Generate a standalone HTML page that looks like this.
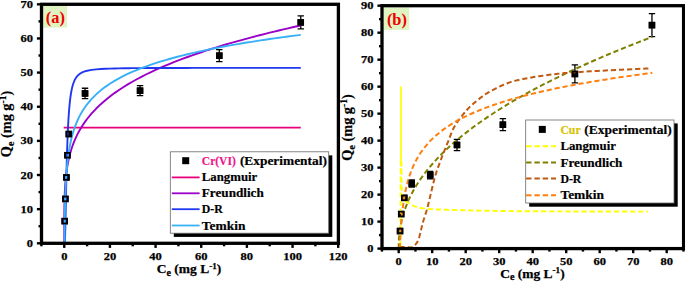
<!DOCTYPE html>
<html><head><meta charset="utf-8"><title>Isotherm plots</title>
<style>html,body{margin:0;padding:0;background:#fff}body{width:685px;height:282px;overflow:hidden}</style></head>
<body>
<svg width="685" height="282" viewBox="0 0 685 282" style="display:block;font-family:'Liberation Serif','DejaVu Serif',serif">
<rect width="685" height="282" fill="#fff"/>
<rect x="43" y="5.9" width="24.1" height="21.7" fill="#dff3c3"/>
<text x="55.3" y="23" text-anchor="middle" font-size="16.4" font-weight="bold" fill="#f00000">(a)</text>
<rect x="61.46" y="217.86" width="6.50" height="6.50" fill="#000"/>
<rect x="62.14" y="195.67" width="6.50" height="6.50" fill="#000"/>
<rect x="63.17" y="174.16" width="6.50" height="6.50" fill="#000"/>
<rect x="64.20" y="151.97" width="6.50" height="6.50" fill="#000"/>
<rect x="65.57" y="130.80" width="6.50" height="6.50" fill="#000"/>
<path d="M85.03 88.23 V98.63 M81.83 88.23 H88.23 M81.83 98.63 H88.23" stroke="#000" stroke-width="1.3" fill="none"/>
<rect x="81.78" y="90.18" width="6.50" height="6.50" fill="#000"/>
<path d="M140.05 85.69 V95.69 M136.85 85.69 H143.25 M136.85 95.69 H143.25" stroke="#000" stroke-width="1.3" fill="none"/>
<rect x="136.80" y="87.44" width="6.50" height="6.50" fill="#000"/>
<path d="M219.27 49.70 V61.70 M216.07 49.70 H222.47 M216.07 61.70 H222.47" stroke="#000" stroke-width="1.3" fill="none"/>
<rect x="216.02" y="52.45" width="6.50" height="6.50" fill="#000"/>
<path d="M300.77 15.91 V28.91 M297.57 15.91 H303.97 M297.57 28.91 H303.97" stroke="#000" stroke-width="1.3" fill="none"/>
<rect x="297.52" y="19.16" width="6.50" height="6.50" fill="#000"/>
<path d="M63.66 127.57 L300.77 127.57" fill="none" stroke="#e8007c" stroke-width="1.85" stroke-linejoin="round"/>
<path d="M64.25 243.30 L64.25 227.20 L64.26 224.29 L64.26 222.35 L64.27 220.85 L64.27 219.62 L64.28 218.56 L64.28 217.62 L64.29 216.79 L64.29 216.03 L64.30 215.33 L64.30 214.68 L64.30 214.08 L64.31 213.51 L64.31 212.98 L64.32 212.47 L64.32 211.99 L64.33 211.53 L64.33 211.09 L64.34 210.67 L64.34 210.27 L64.35 209.88 L64.35 209.50 L64.36 209.14 L64.36 208.79 L64.36 208.45 L64.37 208.12 L64.37 207.80 L64.38 207.49 L64.38 207.19 L64.39 206.89 L64.39 206.60 L64.40 206.32 L64.40 206.05 L64.41 205.78 L64.41 205.52 L64.41 205.26 L64.42 205.01 L64.42 204.77 L64.43 204.53 L64.43 204.29 L64.44 204.06 L64.44 203.83 L64.45 203.61 L64.45 203.39 L64.46 203.17 L64.46 202.96 L64.46 202.75 L64.47 202.54 L64.47 202.34 L64.48 202.14 L64.59 197.94 L64.71 194.69 L64.82 192.02 L64.93 189.73 L65.05 187.71 L65.16 185.90 L65.28 184.25 L65.39 182.74 L65.51 181.34 L65.62 180.03 L65.73 178.80 L65.85 177.64 L65.96 176.55 L66.08 175.51 L66.19 174.51 L66.30 173.56 L66.42 172.65 L66.53 171.78 L66.65 170.93 L66.76 170.12 L66.88 169.34 L66.99 168.58 L67.10 167.84 L67.22 167.13 L67.33 166.44 L67.45 165.76 L67.56 165.11 L67.67 164.47 L67.79 163.84 L67.90 163.24 L68.02 162.64 L68.13 162.06 L68.25 161.50 L68.36 160.94 L68.47 160.40 L68.59 159.86 L68.70 159.34 L68.82 158.83 L68.93 158.33 L69.04 157.84 L69.73 155.05 L70.41 152.52 L71.10 150.20 L71.78 148.04 L72.47 146.03 L73.15 144.15 L73.84 142.37 L74.52 140.68 L75.21 139.08 L75.89 137.55 L76.58 136.09 L77.26 134.69 L77.95 133.35 L78.63 132.05 L79.32 130.80 L80.00 129.60 L80.69 128.43 L81.37 127.30 L82.06 126.20 L82.74 125.14 L83.43 124.10 L84.11 123.09 L84.80 122.11 L85.48 121.15 L86.17 120.22 L86.85 119.31 L87.08 119.01 L91.65 113.45 L96.21 108.55 L100.78 104.17 L105.34 100.18 L109.91 96.51 L114.48 93.11 L119.04 89.94 L123.61 86.97 L128.17 84.17 L132.74 81.51 L137.31 78.98 L141.87 76.57 L146.44 74.27 L151.00 72.06 L155.57 69.94 L160.14 67.90 L164.70 65.93 L169.27 64.03 L173.83 62.19 L178.40 60.41 L182.97 58.68 L187.53 57.00 L192.10 55.36 L196.66 53.77 L201.23 52.23 L205.80 50.72 L210.36 49.24 L214.93 47.80 L219.49 46.40 L224.06 45.02 L228.63 43.68 L233.19 42.36 L237.76 41.07 L242.32 39.81 L246.89 38.57 L251.46 37.35 L256.02 36.15 L260.59 34.98 L265.15 33.83 L269.72 32.70 L274.29 31.58 L278.85 30.49 L283.42 29.41 L287.98 28.35 L292.55 27.30 L297.12 26.27 L300.77 25.46" fill="none" stroke="#9a00c8" stroke-width="1.9" stroke-linejoin="round"/>
<path d="M64.25 243.30 L64.25 243.30 L64.26 243.30 L64.26 243.30 L64.27 243.30 L64.27 243.30 L64.28 243.30 L64.28 243.30 L64.29 243.30 L64.29 243.30 L64.30 243.30 L64.30 243.30 L64.30 243.30 L64.31 243.30 L64.31 243.30 L64.32 243.30 L64.32 243.30 L64.33 243.30 L64.33 243.30 L64.34 243.30 L64.34 243.30 L64.35 243.30 L64.35 243.30 L64.36 243.30 L64.36 243.30 L64.36 243.30 L64.37 243.30 L64.37 243.30 L64.38 243.30 L64.38 243.30 L64.39 243.30 L64.39 243.30 L64.40 243.30 L64.40 243.30 L64.41 243.30 L64.41 243.30 L64.41 243.30 L64.42 243.30 L64.42 243.30 L64.43 243.30 L64.43 243.30 L64.44 243.30 L64.44 243.30 L64.45 243.30 L64.45 243.30 L64.46 243.30 L64.46 243.30 L64.46 243.30 L64.47 243.30 L64.47 243.30 L64.48 243.30 L64.59 243.22 L64.71 242.84 L64.82 241.84 L64.93 240.01 L65.05 237.27 L65.16 233.68 L65.28 229.36 L65.39 224.48 L65.51 219.22 L65.62 213.70 L65.73 208.06 L65.85 202.41 L65.96 196.80 L66.08 191.32 L66.19 185.98 L66.30 180.83 L66.42 175.89 L66.53 171.15 L66.65 166.64 L66.76 162.34 L66.88 158.25 L66.99 154.37 L67.10 150.69 L67.22 147.21 L67.33 143.91 L67.45 140.78 L67.56 137.82 L67.67 135.01 L67.79 132.36 L67.90 129.84 L68.02 127.46 L68.13 125.19 L68.25 123.05 L68.36 121.01 L68.47 119.08 L68.59 117.24 L68.70 115.50 L68.82 113.84 L68.93 112.26 L69.04 110.76 L69.73 103.10 L70.41 97.26 L71.10 92.73 L71.78 89.15 L72.47 86.28 L73.15 83.95 L73.84 82.02 L74.52 80.42 L75.21 79.07 L75.89 77.93 L76.58 76.95 L77.26 76.10 L77.95 75.37 L78.63 74.73 L79.32 74.16 L80.00 73.67 L80.69 73.23 L81.37 72.83 L82.06 72.48 L82.74 72.16 L83.43 71.88 L84.11 71.62 L84.80 71.39 L85.48 71.17 L86.17 70.98 L86.85 70.80 L87.08 70.74 L91.65 69.89 L96.21 69.36 L100.78 69.01 L105.34 68.77 L109.91 68.59 L114.48 68.46 L119.04 68.36 L123.61 68.28 L128.17 68.22 L132.74 68.17 L137.31 68.13 L141.87 68.09 L146.44 68.06 L151.00 68.04 L155.57 68.02 L160.14 68.00 L164.70 67.98 L169.27 67.97 L173.83 67.96 L178.40 67.95 L182.97 67.94 L187.53 67.93 L192.10 67.92 L196.66 67.92 L201.23 67.91 L205.80 67.90 L210.36 67.90 L214.93 67.89 L219.49 67.89 L224.06 67.89 L228.63 67.88 L233.19 67.88 L237.76 67.88 L242.32 67.87 L246.89 67.87 L251.46 67.87 L256.02 67.87 L260.59 67.86 L265.15 67.86 L269.72 67.86 L274.29 67.86 L278.85 67.86 L283.42 67.86 L287.98 67.85 L292.55 67.85 L297.12 67.85 L300.77 67.85" fill="none" stroke="#2038f0" stroke-width="1.9" stroke-linejoin="round"/>
<path d="M64.46 242.93 L64.47 242.31 L64.47 241.70 L64.48 241.10 L64.59 229.05 L64.71 220.51 L64.82 213.88 L64.93 208.47 L65.05 203.89 L65.16 199.92 L65.28 196.42 L65.39 193.29 L65.51 190.46 L65.62 187.88 L65.73 185.50 L65.85 183.30 L65.96 181.25 L66.08 179.33 L66.19 177.53 L66.30 175.84 L66.42 174.23 L66.53 172.71 L66.65 171.26 L66.76 169.87 L66.88 168.55 L66.99 167.29 L67.10 166.08 L67.22 164.91 L67.33 163.79 L67.45 162.71 L67.56 161.67 L67.67 160.66 L67.79 159.69 L67.90 158.75 L68.02 157.83 L68.13 156.95 L68.25 156.08 L68.36 155.25 L68.47 154.43 L68.59 153.64 L68.70 152.87 L68.82 152.12 L68.93 151.38 L69.04 150.67 L69.73 146.70 L70.41 143.20 L71.10 140.08 L71.78 137.24 L72.47 134.66 L73.15 132.28 L73.84 130.08 L74.52 128.03 L75.21 126.12 L75.89 124.31 L76.58 122.62 L77.26 121.01 L77.95 119.49 L78.63 118.04 L79.32 116.66 L80.00 115.34 L80.69 114.07 L81.37 112.86 L82.06 111.69 L82.74 110.57 L83.43 109.49 L84.11 108.45 L84.80 107.44 L85.48 106.47 L86.17 105.53 L86.85 104.61 L87.08 104.31 L91.65 98.90 L96.21 94.32 L100.78 90.35 L105.34 86.86 L109.91 83.73 L114.48 80.90 L119.04 78.31 L123.61 75.93 L128.17 73.73 L132.74 71.68 L137.31 69.77 L141.87 67.97 L146.44 66.27 L151.00 64.66 L155.57 63.14 L160.14 61.69 L164.70 60.31 L169.27 58.99 L173.83 57.72 L178.40 56.51 L182.97 55.35 L187.53 54.23 L192.10 53.15 L196.66 52.10 L201.23 51.10 L205.80 50.12 L210.36 49.18 L214.93 48.27 L219.49 47.38 L224.06 46.52 L228.63 45.68 L233.19 44.87 L237.76 44.08 L242.32 43.30 L246.89 42.55 L251.46 41.82 L256.02 41.10 L260.59 40.40 L265.15 39.72 L269.72 39.05 L274.29 38.40 L278.85 37.76 L283.42 37.14 L287.98 36.52 L292.55 35.92 L297.12 35.34 L300.77 34.87" fill="none" stroke="#38b0f8" stroke-width="1.9" stroke-linejoin="round"/>
<rect x="62.36" y="218.76" width="4.70" height="4.70" fill="none" stroke="#000" stroke-width="1.80"/>
<rect x="63.04" y="196.57" width="4.70" height="4.70" fill="none" stroke="#000" stroke-width="1.80"/>
<rect x="64.07" y="175.06" width="4.70" height="4.70" fill="none" stroke="#000" stroke-width="1.80"/>
<rect x="65.10" y="152.87" width="4.70" height="4.70" fill="none" stroke="#000" stroke-width="1.80"/>
<rect x="66.47" y="131.70" width="4.70" height="4.70" fill="none" stroke="#000" stroke-width="1.80"/>
<rect x="82.68" y="91.08" width="4.70" height="4.70" fill="none" stroke="#000" stroke-width="1.80"/>
<rect x="137.70" y="88.34" width="4.70" height="4.70" fill="none" stroke="#000" stroke-width="1.80"/>
<rect x="216.92" y="53.35" width="4.70" height="4.70" fill="none" stroke="#000" stroke-width="1.80"/>
<rect x="298.42" y="20.06" width="4.70" height="4.70" fill="none" stroke="#000" stroke-width="1.80"/>
<rect x="41.50" y="4.30" width="296.90" height="239.00" fill="none" stroke="#000" stroke-width="3.3"/>
<path d="M64.25 243.30 v4.6" stroke="#000" stroke-width="2.4"/>
<text x="64.25" y="260.00" text-anchor="middle" font-size="11.1" font-weight="bold" stroke="#000" stroke-width="0.25" textLength="6.2" lengthAdjust="spacingAndGlyphs">0</text>
<path d="M109.91 243.30 v4.6" stroke="#000" stroke-width="2.4"/>
<text x="109.91" y="260.00" text-anchor="middle" font-size="11.1" font-weight="bold" stroke="#000" stroke-width="0.25" textLength="12.5" lengthAdjust="spacingAndGlyphs">20</text>
<path d="M155.57 243.30 v4.6" stroke="#000" stroke-width="2.4"/>
<text x="155.57" y="260.00" text-anchor="middle" font-size="11.1" font-weight="bold" stroke="#000" stroke-width="0.25" textLength="12.5" lengthAdjust="spacingAndGlyphs">40</text>
<path d="M201.23 243.30 v4.6" stroke="#000" stroke-width="2.4"/>
<text x="201.23" y="260.00" text-anchor="middle" font-size="11.1" font-weight="bold" stroke="#000" stroke-width="0.25" textLength="12.5" lengthAdjust="spacingAndGlyphs">60</text>
<path d="M246.89 243.30 v4.6" stroke="#000" stroke-width="2.4"/>
<text x="246.89" y="260.00" text-anchor="middle" font-size="11.1" font-weight="bold" stroke="#000" stroke-width="0.25" textLength="12.5" lengthAdjust="spacingAndGlyphs">80</text>
<path d="M292.55 243.30 v4.6" stroke="#000" stroke-width="2.4"/>
<text x="292.55" y="260.00" text-anchor="middle" font-size="11.1" font-weight="bold" stroke="#000" stroke-width="0.25" textLength="18.8" lengthAdjust="spacingAndGlyphs">100</text>
<path d="M338.21 243.30 v4.6" stroke="#000" stroke-width="2.4"/>
<text x="338.21" y="260.00" text-anchor="middle" font-size="11.1" font-weight="bold" stroke="#000" stroke-width="0.25" textLength="18.8" lengthAdjust="spacingAndGlyphs">120</text>
<path d="M41.42 243.30 v3.0" stroke="#000" stroke-width="2.4"/>
<path d="M87.08 243.30 v3.0" stroke="#000" stroke-width="2.4"/>
<path d="M132.74 243.30 v3.0" stroke="#000" stroke-width="2.4"/>
<path d="M178.40 243.30 v3.0" stroke="#000" stroke-width="2.4"/>
<path d="M224.06 243.30 v3.0" stroke="#000" stroke-width="2.4"/>
<path d="M269.72 243.30 v3.0" stroke="#000" stroke-width="2.4"/>
<path d="M315.38 243.30 v3.0" stroke="#000" stroke-width="2.4"/>
<path d="M41.50 243.30 h-4.6" stroke="#000" stroke-width="2.4"/>
<text x="32.90" y="246.90" text-anchor="end" font-size="11.1" font-weight="bold" stroke="#000" stroke-width="0.25" textLength="6.2" lengthAdjust="spacingAndGlyphs">0</text>
<path d="M41.50 209.16 h-4.6" stroke="#000" stroke-width="2.4"/>
<text x="32.90" y="212.76" text-anchor="end" font-size="11.1" font-weight="bold" stroke="#000" stroke-width="0.25" textLength="12.5" lengthAdjust="spacingAndGlyphs">10</text>
<path d="M41.50 175.02 h-4.6" stroke="#000" stroke-width="2.4"/>
<text x="32.90" y="178.62" text-anchor="end" font-size="11.1" font-weight="bold" stroke="#000" stroke-width="0.25" textLength="12.5" lengthAdjust="spacingAndGlyphs">20</text>
<path d="M41.50 140.88 h-4.6" stroke="#000" stroke-width="2.4"/>
<text x="32.90" y="144.48" text-anchor="end" font-size="11.1" font-weight="bold" stroke="#000" stroke-width="0.25" textLength="12.5" lengthAdjust="spacingAndGlyphs">30</text>
<path d="M41.50 106.74 h-4.6" stroke="#000" stroke-width="2.4"/>
<text x="32.90" y="110.34" text-anchor="end" font-size="11.1" font-weight="bold" stroke="#000" stroke-width="0.25" textLength="12.5" lengthAdjust="spacingAndGlyphs">40</text>
<path d="M41.50 72.60 h-4.6" stroke="#000" stroke-width="2.4"/>
<text x="32.90" y="76.20" text-anchor="end" font-size="11.1" font-weight="bold" stroke="#000" stroke-width="0.25" textLength="12.5" lengthAdjust="spacingAndGlyphs">50</text>
<path d="M41.50 38.46 h-4.6" stroke="#000" stroke-width="2.4"/>
<text x="32.90" y="42.06" text-anchor="end" font-size="11.1" font-weight="bold" stroke="#000" stroke-width="0.25" textLength="12.5" lengthAdjust="spacingAndGlyphs">60</text>
<path d="M41.50 4.32 h-4.6" stroke="#000" stroke-width="2.4"/>
<text x="32.90" y="7.92" text-anchor="end" font-size="11.1" font-weight="bold" stroke="#000" stroke-width="0.25" textLength="12.5" lengthAdjust="spacingAndGlyphs">70</text>
<path d="M41.50 226.23 h-3.0" stroke="#000" stroke-width="2.4"/>
<path d="M41.50 192.09 h-3.0" stroke="#000" stroke-width="2.4"/>
<path d="M41.50 157.95 h-3.0" stroke="#000" stroke-width="2.4"/>
<path d="M41.50 123.81 h-3.0" stroke="#000" stroke-width="2.4"/>
<path d="M41.50 89.67 h-3.0" stroke="#000" stroke-width="2.4"/>
<path d="M41.50 55.53 h-3.0" stroke="#000" stroke-width="2.4"/>
<path d="M41.50 21.39 h-3.0" stroke="#000" stroke-width="2.4"/>
<text x="189" y="273.3" text-anchor="middle" font-size="13.1" font-weight="bold" stroke="#000" stroke-width="0.25" textLength="64.5" lengthAdjust="spacingAndGlyphs">C<tspan font-size="9.9" dy="2.7">e</tspan><tspan dy="-2.7"> (mg L</tspan><tspan font-size="8.8" dy="-4.8">-1</tspan><tspan dy="4.8">)</tspan></text>
<text transform="translate(11.2 124) rotate(-90)" text-anchor="middle" font-size="14.3" font-weight="bold" stroke="#000" stroke-width="0.2">Q<tspan font-size="10" dy="3.2">e</tspan><tspan dy="-3.2"> (mg g</tspan><tspan font-size="9.5" dy="-5.3">-1</tspan><tspan dy="5.3">)</tspan></text>
<rect x="173.8" y="155.4" width="158.5" height="81.5" fill="#000"/>
<rect x="170.3" y="151.8" width="158.4" height="81.4" fill="#fff" stroke="#6a6a6a" stroke-width="0.8"/>
<rect x="182.2" y="157.20" width="7" height="7" fill="#000"/>
<text x="201.8" y="165.10" font-size="13" font-weight="bold" fill="#f0148c" stroke="#f0148c" stroke-width="0.2" textLength="34" lengthAdjust="spacingAndGlyphs">Cr(VI)</text>
<text x="239.9" y="165.10" font-size="13" font-weight="bold" stroke="#000" stroke-width="0.2" textLength="87" lengthAdjust="spacingAndGlyphs">(Experimental)</text>
<path d="M171.8 177.40 H199.6" stroke="#e8007c" stroke-width="1.8"/>
<text x="201.8" y="181.40" font-size="13" font-weight="bold" stroke="#000" stroke-width="0.2" textLength="55.5" lengthAdjust="spacingAndGlyphs">Langmuir</text>
<path d="M171.8 193.30 H199.6" stroke="#9a00c8" stroke-width="1.8"/>
<text x="201.8" y="197.30" font-size="13" font-weight="bold" stroke="#000" stroke-width="0.2" textLength="62.0" lengthAdjust="spacingAndGlyphs">Freundlich</text>
<path d="M171.8 209.20 H199.6" stroke="#2038f0" stroke-width="1.8"/>
<text x="201.8" y="213.20" font-size="13" font-weight="bold" stroke="#000" stroke-width="0.2" textLength="21.0" lengthAdjust="spacingAndGlyphs">D-R</text>
<path d="M171.8 225.50 H199.6" stroke="#38b0f8" stroke-width="1.8"/>
<text x="201.8" y="229.50" font-size="13" font-weight="bold" stroke="#000" stroke-width="0.2" textLength="43.7" lengthAdjust="spacingAndGlyphs">Temkin</text>
<rect x="383.6" y="7.4" width="25.7" height="22.6" fill="#dff3c3"/>
<text x="396.9" y="25.2" text-anchor="middle" font-size="16.4" font-weight="bold" fill="#f00000">(b)</text>
<rect x="396.79" y="227.81" width="6.50" height="6.50" fill="#000"/>
<rect x="397.96" y="210.80" width="6.50" height="6.50" fill="#000"/>
<rect x="401.04" y="194.61" width="6.50" height="6.50" fill="#000"/>
<path d="M411.76 179.95 V187.15 M408.56 179.95 H414.96 M408.56 187.15 H414.96" stroke="#000" stroke-width="1.3" fill="none"/>
<rect x="408.51" y="180.30" width="6.50" height="6.50" fill="#000"/>
<path d="M430.19 171.49 V178.89 M426.99 171.49 H433.39 M426.99 178.89 H433.39" stroke="#000" stroke-width="1.3" fill="none"/>
<rect x="426.94" y="171.94" width="6.50" height="6.50" fill="#000"/>
<path d="M456.99 139.36 V150.56 M453.79 139.36 H460.19 M453.79 150.56 H460.19" stroke="#000" stroke-width="1.3" fill="none"/>
<rect x="453.74" y="141.71" width="6.50" height="6.50" fill="#000"/>
<path d="M502.88 118.72 V130.72 M499.69 118.72 H506.08 M499.69 130.72 H506.08" stroke="#000" stroke-width="1.3" fill="none"/>
<rect x="499.63" y="121.47" width="6.50" height="6.50" fill="#000"/>
<path d="M574.91 64.97 V82.97 M571.71 64.97 H578.11 M571.71 82.97 H578.11" stroke="#000" stroke-width="1.3" fill="none"/>
<rect x="571.66" y="70.72" width="6.50" height="6.50" fill="#000"/>
<path d="M651.96 13.62 V36.62 M648.76 13.62 H655.16 M648.76 36.62 H655.16" stroke="#000" stroke-width="1.3" fill="none"/>
<rect x="648.71" y="21.87" width="6.50" height="6.50" fill="#000"/>
<path d="M401.00 86.40 L401.00 160.00" fill="none" stroke="#ffff00" stroke-width="1.7" stroke-linejoin="round"/>
<path d="M400.80 160.00 L400.30 246.00" fill="none" stroke="#ffff00" stroke-width="1.9" stroke-linejoin="round" stroke-dasharray="5.2 2.9"/>
<path d="M401.40 161.50 L401.41 162.50 L401.41 163.82 L401.42 165.38 L401.43 167.13 L401.44 169.00 L401.45 170.93 L401.46 172.86 L401.47 174.72 L401.49 176.46 L401.50 178.00 L401.51 179.40 L401.52 180.76 L401.53 182.07 L401.54 183.34 L401.55 184.56 L401.56 185.74 L401.59 186.87 L401.61 187.96 L401.65 189.00 L401.70 190.00 L401.75 190.95 L401.81 191.85 L401.87 192.71 L401.94 193.52 L402.01 194.28 L402.10 195.00 L402.20 195.69 L402.31 196.33 L402.45 196.93 L402.60 197.50 L402.77 198.02 L402.97 198.48 L403.18 198.89 L403.40 199.26 L403.64 199.60 L403.89 199.91 L404.15 200.19 L404.43 200.47 L404.71 200.73 L405.00 201.00 L405.29 201.25 L405.57 201.45 L405.86 201.63 L406.15 201.78 L406.46 201.93 L406.79 202.08 L407.15 202.24 L407.55 202.42 L408.00 202.64 L408.50 202.90 L409.05 203.21 L409.64 203.57 L410.26 203.96 L410.92 204.37 L411.62 204.79 L412.35 205.22 L413.11 205.63 L413.91 206.02 L414.74 206.38 L415.60 206.70 L416.45 206.98 L417.25 207.23 L418.05 207.46 L418.87 207.67 L419.74 207.86 L420.70 208.04 L421.78 208.22 L423.00 208.38 L424.39 208.54 L426.00 208.70 L427.72 208.85 L429.48 208.99 L431.32 209.12 L433.28 209.24 L435.40 209.36 L437.73 209.47 L440.31 209.57 L443.19 209.68 L446.40 209.79 L450.00 209.90 L454.04 210.02 L458.51 210.14 L463.35 210.26 L468.50 210.38 L473.88 210.50 L479.42 210.62 L485.08 210.72 L490.77 210.83 L496.43 210.92 L502.00 211.00 L507.42 211.07 L512.74 211.13 L518.01 211.18 L523.33 211.22 L528.75 211.26 L534.35 211.29 L540.21 211.32 L546.38 211.34 L552.96 211.37 L560.00 211.40 L567.98 211.43 L577.09 211.46 L586.97 211.48 L597.26 211.50 L607.62 211.53 L617.70 211.54 L627.12 211.56 L635.55 211.58 L642.63 211.59 L648.00 211.60" fill="none" stroke="#ffff00" stroke-width="1.9" stroke-linejoin="round" stroke-dasharray="5.2 2.9"/>
<path d="M398.70 248.60 L398.77 243.57 L398.83 241.71 L398.90 240.32 L398.97 239.17 L399.03 238.16 L399.10 237.26 L399.17 236.44 L399.24 235.68 L399.30 234.97 L399.37 234.30 L399.44 233.67 L399.50 233.07 L399.57 232.49 L399.64 231.94 L399.70 231.41 L399.77 230.90 L399.84 230.41 L399.87 230.17 L399.97 229.47 L400.07 228.79 L400.17 228.15 L400.27 227.53 L400.38 226.93 L400.48 226.35 L400.58 225.78 L400.68 225.24 L400.78 224.70 L400.88 224.18 L400.98 223.68 L401.08 223.19 L401.18 222.70 L401.28 222.23 L401.38 221.77 L401.48 221.32 L401.58 220.88 L401.68 220.44 L401.78 220.01 L401.88 219.59 L401.98 219.18 L402.08 218.78 L402.18 218.38 L402.28 217.98 L402.38 217.60 L402.49 217.22 L402.59 216.84 L402.69 216.47 L402.79 216.11 L402.89 215.75 L402.99 215.39 L403.09 215.04 L403.19 214.69 L403.39 214.01 L403.89 212.38 L404.39 210.82 L404.90 209.35 L405.40 207.93 L405.90 206.57 L406.40 205.27 L406.91 204.01 L407.41 202.79 L407.91 201.60 L408.41 200.46 L408.92 199.34 L409.42 198.26 L409.92 197.20 L410.43 196.17 L410.93 195.16 L411.43 194.17 L411.93 193.21 L412.44 192.26 L412.94 191.34 L413.44 190.43 L413.94 189.53 L414.44 188.66 L414.95 187.80 L415.45 186.95 L415.95 186.12 L416.45 185.30 L416.96 184.49 L417.46 183.70 L417.96 182.91 L418.46 182.14 L418.97 181.38 L419.47 180.63 L419.97 179.88 L420.47 179.15 L423.82 174.49 L427.18 170.16 L430.52 166.09 L433.88 162.26 L437.22 158.62 L440.57 155.15 L443.93 151.82 L447.27 148.63 L450.62 145.56 L453.97 142.59 L457.32 139.72 L460.68 136.94 L464.02 134.24 L467.38 131.61 L470.73 129.06 L474.07 126.56 L477.43 124.13 L480.77 121.75 L484.12 119.43 L487.48 117.15 L490.82 114.92 L494.18 112.74 L497.52 110.60 L500.88 108.49 L504.23 106.42 L507.57 104.39 L510.93 102.39 L514.27 100.43 L517.62 98.49 L520.98 96.59 L524.33 94.71 L527.67 92.86 L531.02 91.04 L534.38 89.24 L537.73 87.47 L541.08 85.71 L544.42 83.98 L547.77 82.28 L551.12 80.59 L554.48 78.92 L557.83 77.28 L561.17 75.65 L564.52 74.04 L567.88 72.45 L571.23 70.87 L574.58 69.31 L577.92 67.77 L581.27 66.24 L584.62 64.73 L587.98 63.24 L591.33 61.75 L594.67 60.29 L598.02 58.83 L601.38 57.39 L604.73 55.96 L608.08 54.54 L611.42 53.14 L614.77 51.75 L618.12 50.37 L621.48 49.00 L624.83 47.64 L628.17 46.30 L631.52 44.96 L634.88 43.64 L638.23 42.32 L641.58 41.02 L644.92 39.72 L648.27 38.44 L651.62 37.16 L652.30 36.91" fill="none" stroke="#808000" stroke-width="2.0" stroke-linejoin="round" stroke-dasharray="5.2 2.9"/>
<path d="M399.50 247.00 L399.89 247.00 L400.38 247.00 L400.97 247.00 L401.63 247.00 L402.34 247.01 L403.08 247.01 L403.84 247.01 L404.59 247.01 L405.32 247.00 L406.00 247.00 L406.66 247.03 L407.33 247.10 L408.00 247.20 L408.68 247.30 L409.35 247.39 L410.02 247.45 L410.68 247.45 L411.34 247.37 L411.98 247.19 L412.60 246.90 L413.21 246.52 L413.82 246.09 L414.41 245.60 L415.00 245.04 L415.58 244.41 L416.15 243.69 L416.71 242.88 L417.25 241.97 L417.78 240.94 L418.30 239.80 L418.80 238.49 L419.28 236.99 L419.74 235.34 L420.19 233.58 L420.63 231.74 L421.06 229.87 L421.50 228.01 L421.93 226.18 L422.36 224.43 L422.80 222.80 L423.25 221.25 L423.71 219.73 L424.18 218.24 L424.65 216.77 L425.11 215.33 L425.57 213.92 L426.01 212.54 L426.43 211.20 L426.83 209.88 L427.20 208.60 L427.53 207.41 L427.81 206.35 L428.05 205.37 L428.28 204.44 L428.49 203.51 L428.71 202.54 L428.95 201.50 L429.22 200.34 L429.53 199.02 L429.90 197.50 L430.32 195.75 L430.79 193.79 L431.28 191.66 L431.81 189.41 L432.36 187.09 L432.92 184.74 L433.49 182.41 L434.07 180.15 L434.64 177.99 L435.20 176.00 L435.75 174.16 L436.30 172.42 L436.85 170.77 L437.40 169.17 L437.96 167.61 L438.53 166.05 L439.11 164.49 L439.72 162.89 L440.34 161.24 L441.00 159.50 L441.69 157.67 L442.43 155.75 L443.19 153.78 L443.98 151.78 L444.78 149.76 L445.57 147.76 L446.37 145.78 L447.14 143.87 L447.89 142.03 L448.60 140.30 L449.25 138.68 L449.83 137.16 L450.36 135.72 L450.88 134.33 L451.39 132.98 L451.93 131.64 L452.52 130.30 L453.18 128.92 L453.93 127.50 L454.80 126.00 L455.79 124.41 L456.90 122.75 L458.09 121.04 L459.35 119.30 L460.66 117.55 L462.00 115.82 L463.35 114.12 L464.70 112.49 L466.02 110.94 L467.30 109.50 L468.57 108.15 L469.86 106.85 L471.17 105.61 L472.48 104.43 L473.79 103.29 L475.07 102.21 L476.33 101.19 L477.54 100.21 L478.70 99.28 L479.80 98.40 L480.82 97.59 L481.77 96.86 L482.67 96.19 L483.52 95.58 L484.35 95.02 L485.16 94.48 L485.97 93.97 L486.78 93.45 L487.62 92.94 L488.50 92.40 L489.41 91.85 L490.33 91.32 L491.26 90.79 L492.21 90.27 L493.15 89.76 L494.09 89.27 L495.04 88.78 L495.97 88.31 L496.89 87.85 L497.80 87.40 L498.69 86.97 L499.57 86.55 L500.44 86.15 L501.30 85.76 L502.16 85.38 L503.01 85.00 L503.87 84.64 L504.74 84.29 L505.61 83.94 L506.50 83.60 L507.36 83.27 L508.17 82.96 L508.95 82.66 L509.73 82.37 L510.53 82.08 L511.37 81.80 L512.28 81.51 L513.30 81.22 L514.43 80.92 L515.70 80.60 L517.14 80.27 L518.72 79.92 L520.43 79.56 L522.24 79.19 L524.11 78.82 L526.03 78.45 L527.96 78.09 L529.89 77.74 L531.77 77.41 L533.60 77.10 L535.38 76.81 L537.16 76.53 L538.94 76.26 L540.72 76.00 L542.50 75.75 L544.28 75.51 L546.06 75.27 L547.84 75.05 L549.62 74.82 L551.40 74.60 L553.12 74.39 L554.75 74.18 L556.32 73.99 L557.87 73.80 L559.46 73.62 L561.11 73.44 L562.88 73.26 L564.81 73.08 L566.93 72.89 L569.30 72.70 L571.87 72.51 L574.56 72.31 L577.40 72.12 L580.37 71.92 L583.49 71.73 L586.76 71.53 L590.18 71.33 L593.76 71.12 L597.50 70.91 L601.40 70.70 L605.75 70.47 L610.69 70.22 L616.04 69.96 L621.61 69.69 L627.21 69.43 L632.64 69.17 L637.73 68.93 L642.28 68.72 L646.10 68.54 L649.00 68.40" fill="none" stroke="#c05a10" stroke-width="2.0" stroke-linejoin="round" stroke-dasharray="5.2 2.9"/>
<path d="M399.87 248.45 L399.97 245.77 L400.07 243.29 L400.17 240.98 L400.27 238.83 L400.38 236.81 L400.48 234.90 L400.58 233.10 L400.68 231.40 L400.78 229.78 L400.88 228.24 L400.98 226.76 L401.08 225.35 L401.18 224.00 L401.28 222.70 L401.38 221.46 L401.48 220.25 L401.58 219.09 L401.68 217.97 L401.78 216.89 L401.88 215.84 L401.98 214.83 L402.08 213.84 L402.18 212.89 L402.28 211.96 L402.38 211.06 L402.49 210.18 L402.59 209.32 L402.69 208.49 L402.79 207.67 L402.89 206.88 L402.99 206.11 L403.09 205.35 L403.19 204.61 L403.39 203.18 L403.89 199.86 L404.39 196.84 L404.90 194.08 L405.40 191.53 L405.90 189.17 L406.40 186.97 L406.91 184.90 L407.41 182.96 L407.91 181.13 L408.41 179.40 L408.92 177.75 L409.42 176.18 L409.92 174.69 L410.43 173.26 L410.93 171.89 L411.43 170.57 L411.93 169.31 L412.44 168.09 L412.94 166.92 L413.44 165.78 L413.94 164.69 L414.44 163.63 L414.95 162.60 L415.45 161.61 L415.95 160.64 L416.45 159.70 L416.96 158.79 L417.46 157.91 L417.96 157.04 L418.46 156.20 L418.97 155.38 L419.47 154.58 L419.97 153.80 L420.47 153.04 L423.82 148.37 L427.18 144.28 L430.52 140.65 L433.88 137.38 L437.22 134.41 L440.57 131.68 L443.93 129.17 L447.27 126.84 L450.62 124.66 L453.97 122.62 L457.32 120.69 L460.68 118.88 L464.02 117.16 L467.38 115.53 L470.73 113.97 L474.07 112.49 L477.43 111.07 L480.77 109.71 L484.12 108.40 L487.48 107.14 L490.82 105.93 L494.18 104.77 L497.52 103.64 L500.88 102.55 L504.23 101.50 L507.57 100.48 L510.93 99.49 L514.27 98.53 L517.62 97.59 L520.98 96.69 L524.33 95.81 L527.67 94.95 L531.02 94.11 L534.38 93.29 L537.73 92.50 L541.08 91.72 L544.42 90.96 L547.77 90.22 L551.12 89.49 L554.48 88.78 L557.83 88.09 L561.17 87.40 L564.52 86.74 L567.88 86.08 L571.23 85.44 L574.58 84.82 L577.92 84.20 L581.27 83.60 L584.62 83.00 L587.98 82.42 L591.33 81.85 L594.67 81.28 L598.02 80.73 L601.38 80.18 L604.73 79.65 L608.08 79.12 L611.42 78.60 L614.77 78.09 L618.12 77.59 L621.48 77.10 L624.83 76.61 L628.17 76.13 L631.52 75.66 L634.88 75.19 L638.23 74.73 L641.58 74.28 L644.92 73.83 L648.27 73.39 L651.62 72.95 L652.30 72.86" fill="none" stroke="#ff8010" stroke-width="2.0" stroke-linejoin="round" stroke-dasharray="5.2 2.9"/>
<rect x="397.69" y="228.71" width="4.70" height="4.70" fill="none" stroke="#000" stroke-width="1.80"/>
<rect x="398.86" y="211.70" width="4.70" height="4.70" fill="none" stroke="#000" stroke-width="1.80"/>
<rect x="401.94" y="195.51" width="4.70" height="4.70" fill="none" stroke="#000" stroke-width="1.80"/>
<rect x="409.41" y="181.20" width="4.70" height="4.70" fill="none" stroke="#000" stroke-width="1.80"/>
<rect x="427.84" y="172.84" width="4.70" height="4.70" fill="none" stroke="#000" stroke-width="1.80"/>
<rect x="454.64" y="142.61" width="4.70" height="4.70" fill="none" stroke="#000" stroke-width="1.80"/>
<rect x="500.53" y="122.37" width="4.70" height="4.70" fill="none" stroke="#000" stroke-width="1.80"/>
<rect x="572.56" y="71.62" width="4.70" height="4.70" fill="none" stroke="#000" stroke-width="1.80"/>
<rect x="649.61" y="22.77" width="4.70" height="4.70" fill="none" stroke="#000" stroke-width="1.80"/>
<rect x="382.00" y="5.70" width="301.60" height="242.90" fill="none" stroke="#000" stroke-width="3.3"/>
<path d="M398.70 248.60 v4.6" stroke="#000" stroke-width="2.4"/>
<text x="398.70" y="265.30" text-anchor="middle" font-size="11.1" font-weight="bold" stroke="#000" stroke-width="0.25" textLength="6.2" lengthAdjust="spacingAndGlyphs">0</text>
<path d="M432.20 248.60 v4.6" stroke="#000" stroke-width="2.4"/>
<text x="432.20" y="265.30" text-anchor="middle" font-size="11.1" font-weight="bold" stroke="#000" stroke-width="0.25" textLength="12.5" lengthAdjust="spacingAndGlyphs">10</text>
<path d="M465.70 248.60 v4.6" stroke="#000" stroke-width="2.4"/>
<text x="465.70" y="265.30" text-anchor="middle" font-size="11.1" font-weight="bold" stroke="#000" stroke-width="0.25" textLength="12.5" lengthAdjust="spacingAndGlyphs">20</text>
<path d="M499.20 248.60 v4.6" stroke="#000" stroke-width="2.4"/>
<text x="499.20" y="265.30" text-anchor="middle" font-size="11.1" font-weight="bold" stroke="#000" stroke-width="0.25" textLength="12.5" lengthAdjust="spacingAndGlyphs">30</text>
<path d="M532.70 248.60 v4.6" stroke="#000" stroke-width="2.4"/>
<text x="532.70" y="265.30" text-anchor="middle" font-size="11.1" font-weight="bold" stroke="#000" stroke-width="0.25" textLength="12.5" lengthAdjust="spacingAndGlyphs">40</text>
<path d="M566.20 248.60 v4.6" stroke="#000" stroke-width="2.4"/>
<text x="566.20" y="265.30" text-anchor="middle" font-size="11.1" font-weight="bold" stroke="#000" stroke-width="0.25" textLength="12.5" lengthAdjust="spacingAndGlyphs">50</text>
<path d="M599.70 248.60 v4.6" stroke="#000" stroke-width="2.4"/>
<text x="599.70" y="265.30" text-anchor="middle" font-size="11.1" font-weight="bold" stroke="#000" stroke-width="0.25" textLength="12.5" lengthAdjust="spacingAndGlyphs">60</text>
<path d="M633.20 248.60 v4.6" stroke="#000" stroke-width="2.4"/>
<text x="633.20" y="265.30" text-anchor="middle" font-size="11.1" font-weight="bold" stroke="#000" stroke-width="0.25" textLength="12.5" lengthAdjust="spacingAndGlyphs">70</text>
<path d="M666.70 248.60 v4.6" stroke="#000" stroke-width="2.4"/>
<text x="666.70" y="265.30" text-anchor="middle" font-size="11.1" font-weight="bold" stroke="#000" stroke-width="0.25" textLength="12.5" lengthAdjust="spacingAndGlyphs">80</text>
<path d="M381.95 248.60 v3.0" stroke="#000" stroke-width="2.4"/>
<path d="M415.45 248.60 v3.0" stroke="#000" stroke-width="2.4"/>
<path d="M448.95 248.60 v3.0" stroke="#000" stroke-width="2.4"/>
<path d="M482.45 248.60 v3.0" stroke="#000" stroke-width="2.4"/>
<path d="M515.95 248.60 v3.0" stroke="#000" stroke-width="2.4"/>
<path d="M549.45 248.60 v3.0" stroke="#000" stroke-width="2.4"/>
<path d="M582.95 248.60 v3.0" stroke="#000" stroke-width="2.4"/>
<path d="M616.45 248.60 v3.0" stroke="#000" stroke-width="2.4"/>
<path d="M649.95 248.60 v3.0" stroke="#000" stroke-width="2.4"/>
<path d="M683.45 248.60 v3.0" stroke="#000" stroke-width="2.4"/>
<path d="M382.00 248.60 h-4.6" stroke="#000" stroke-width="2.4"/>
<text x="373.40" y="252.20" text-anchor="end" font-size="11.1" font-weight="bold" stroke="#000" stroke-width="0.25" textLength="6.2" lengthAdjust="spacingAndGlyphs">0</text>
<path d="M382.00 221.61 h-4.6" stroke="#000" stroke-width="2.4"/>
<text x="373.40" y="225.21" text-anchor="end" font-size="11.1" font-weight="bold" stroke="#000" stroke-width="0.25" textLength="12.5" lengthAdjust="spacingAndGlyphs">10</text>
<path d="M382.00 194.62 h-4.6" stroke="#000" stroke-width="2.4"/>
<text x="373.40" y="198.22" text-anchor="end" font-size="11.1" font-weight="bold" stroke="#000" stroke-width="0.25" textLength="12.5" lengthAdjust="spacingAndGlyphs">20</text>
<path d="M382.00 167.63 h-4.6" stroke="#000" stroke-width="2.4"/>
<text x="373.40" y="171.23" text-anchor="end" font-size="11.1" font-weight="bold" stroke="#000" stroke-width="0.25" textLength="12.5" lengthAdjust="spacingAndGlyphs">30</text>
<path d="M382.00 140.64 h-4.6" stroke="#000" stroke-width="2.4"/>
<text x="373.40" y="144.24" text-anchor="end" font-size="11.1" font-weight="bold" stroke="#000" stroke-width="0.25" textLength="12.5" lengthAdjust="spacingAndGlyphs">40</text>
<path d="M382.00 113.65 h-4.6" stroke="#000" stroke-width="2.4"/>
<text x="373.40" y="117.25" text-anchor="end" font-size="11.1" font-weight="bold" stroke="#000" stroke-width="0.25" textLength="12.5" lengthAdjust="spacingAndGlyphs">50</text>
<path d="M382.00 86.66 h-4.6" stroke="#000" stroke-width="2.4"/>
<text x="373.40" y="90.26" text-anchor="end" font-size="11.1" font-weight="bold" stroke="#000" stroke-width="0.25" textLength="12.5" lengthAdjust="spacingAndGlyphs">60</text>
<path d="M382.00 59.67 h-4.6" stroke="#000" stroke-width="2.4"/>
<text x="373.40" y="63.27" text-anchor="end" font-size="11.1" font-weight="bold" stroke="#000" stroke-width="0.25" textLength="12.5" lengthAdjust="spacingAndGlyphs">70</text>
<path d="M382.00 32.68 h-4.6" stroke="#000" stroke-width="2.4"/>
<text x="373.40" y="36.28" text-anchor="end" font-size="11.1" font-weight="bold" stroke="#000" stroke-width="0.25" textLength="12.5" lengthAdjust="spacingAndGlyphs">80</text>
<path d="M382.00 5.69 h-4.6" stroke="#000" stroke-width="2.4"/>
<text x="373.40" y="9.29" text-anchor="end" font-size="11.1" font-weight="bold" stroke="#000" stroke-width="0.25" textLength="12.5" lengthAdjust="spacingAndGlyphs">90</text>
<path d="M382.00 235.10 h-3.0" stroke="#000" stroke-width="2.4"/>
<path d="M382.00 208.12 h-3.0" stroke="#000" stroke-width="2.4"/>
<path d="M382.00 181.12 h-3.0" stroke="#000" stroke-width="2.4"/>
<path d="M382.00 154.13 h-3.0" stroke="#000" stroke-width="2.4"/>
<path d="M382.00 127.14 h-3.0" stroke="#000" stroke-width="2.4"/>
<path d="M382.00 100.16 h-3.0" stroke="#000" stroke-width="2.4"/>
<path d="M382.00 73.16 h-3.0" stroke="#000" stroke-width="2.4"/>
<path d="M382.00 46.18 h-3.0" stroke="#000" stroke-width="2.4"/>
<path d="M382.00 19.19 h-3.0" stroke="#000" stroke-width="2.4"/>
<text x="532.4" y="277.6" text-anchor="middle" font-size="13.1" font-weight="bold" stroke="#000" stroke-width="0.25" textLength="64.5" lengthAdjust="spacingAndGlyphs">C<tspan font-size="9.9" dy="2.7">e</tspan><tspan dy="-2.7"> (mg L</tspan><tspan font-size="8.8" dy="-4.8">-1</tspan><tspan dy="4.8">)</tspan></text>
<text transform="translate(352.2 127.5) rotate(-90)" text-anchor="middle" font-size="14.3" font-weight="bold" stroke="#000" stroke-width="0.2">Q<tspan font-size="10" dy="3.2">e</tspan><tspan dy="-3.2"> (mg g</tspan><tspan font-size="9.5" dy="-5.3">-1</tspan><tspan dy="5.3">)</tspan></text>
<rect x="529.2" y="123.4" width="148.5" height="83.3" fill="#000"/>
<rect x="525.7" y="120" width="148.3" height="83" fill="#fff" stroke="#6a6a6a" stroke-width="0.8"/>
<rect x="538.8" y="125.90" width="7" height="7" fill="#000"/>
<text x="560.4" y="133.70" font-size="13" font-weight="bold" fill="#d6c200" stroke="#d6c200" stroke-width="0.2" textLength="20.2" lengthAdjust="spacingAndGlyphs">Cur</text>
<text x="584.2" y="133.70" font-size="13" font-weight="bold" stroke="#000" stroke-width="0.2" textLength="87.6" lengthAdjust="spacingAndGlyphs">(Experimental)</text>
<path d="M526.1 146.20 H556" stroke="#ffff00" stroke-width="2" stroke-dasharray="5.4 2.9"/>
<text x="560.4" y="150.40" font-size="13" font-weight="bold" stroke="#000" stroke-width="0.2" textLength="55.5" lengthAdjust="spacingAndGlyphs">Langmuir</text>
<path d="M526.1 162.50 H556" stroke="#808000" stroke-width="2" stroke-dasharray="5.4 2.9"/>
<text x="560.4" y="166.70" font-size="13" font-weight="bold" stroke="#000" stroke-width="0.2" textLength="62.0" lengthAdjust="spacingAndGlyphs">Freundlich</text>
<path d="M526.1 178.60 H556" stroke="#c05a10" stroke-width="2" stroke-dasharray="5.4 2.9"/>
<text x="560.4" y="182.80" font-size="13" font-weight="bold" stroke="#000" stroke-width="0.2" textLength="21.0" lengthAdjust="spacingAndGlyphs">D-R</text>
<path d="M526.1 195.20 H556" stroke="#ff8010" stroke-width="2" stroke-dasharray="5.4 2.9"/>
<text x="560.4" y="199.40" font-size="13" font-weight="bold" stroke="#000" stroke-width="0.2" textLength="43.7" lengthAdjust="spacingAndGlyphs">Temkin</text>
</svg>
</body></html>
